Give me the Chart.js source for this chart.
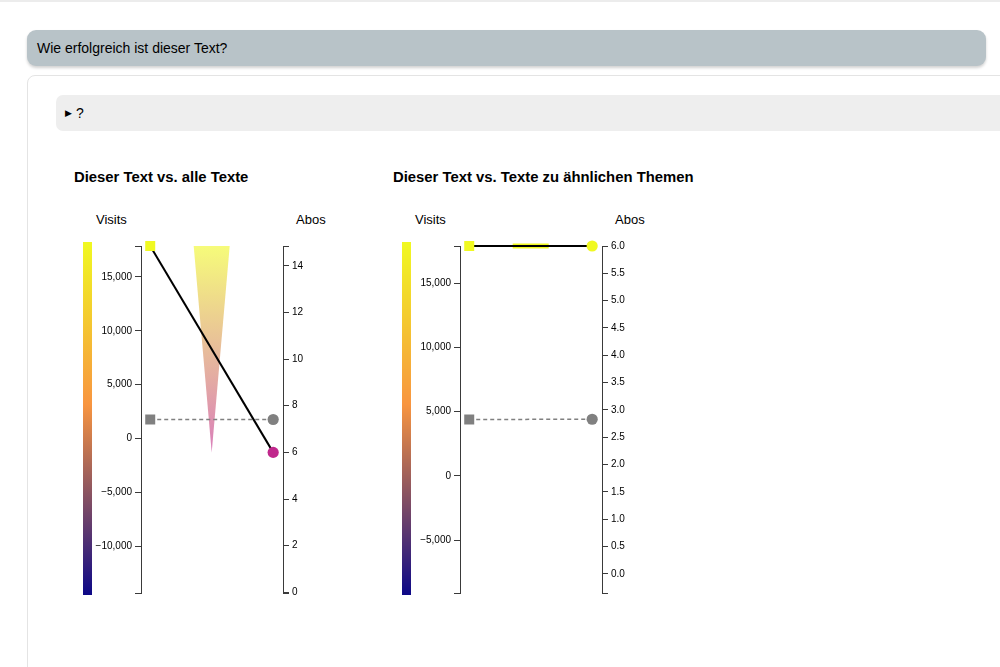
<!DOCTYPE html>
<html>
<head>
<meta charset="utf-8">
<script src="https://cdn.jsdelivr.net/npm/chart.js@4/dist/chart.umd.min.js"></script>
<style>
  html,body{margin:0;padding:0;background:#fff;}
  body{width:1000px;height:667px;position:relative;overflow:hidden;font-family:"Liberation Sans",Arial,Helvetica,sans-serif;color:#000;}
  .abs{position:absolute;}
  #topline{left:0;top:0;width:1000px;height:2px;background:#ececec;}
  #hdr{left:27px;top:30px;width:959px;height:36px;background:#b8c3c8;border-radius:9px;box-shadow:0 2px 3px rgba(0,0,0,0.18);}
  #hdr span{position:absolute;left:10px;top:10px;font-size:14px;line-height:16px;}
  #card{left:27px;top:75px;width:1000px;height:640px;border:1px solid #e4e4e4;border-radius:8px;}
  #det{left:56px;top:95px;width:990px;height:36px;background:#eeeeee;border-radius:7px;}
  #det span{position:absolute;left:9px;top:10px;font-size:14px;line-height:16px;}
  #det i{font-style:normal;font-size:9px;position:relative;top:-2px;}
  .title{font-size:15px;font-weight:bold;line-height:15px;white-space:nowrap;}
  .t2{font-size:14.85px;}
  .axname{font-size:13px;line-height:13px;white-space:nowrap;}
  canvas{position:absolute;}
</style>
</head>
<body>
<div class="abs" id="topline"></div>
<div class="abs" id="hdr"><span>Wie erfolgreich ist dieser Text?</span></div>
<div class="abs" id="card"></div>
<div class="abs" id="det"><span><i>&#9654;</i> ?</span></div>

<div class="abs title t2" style="left:74px;top:170px;">Dieser Text vs. alle Texte</div>
<div class="abs title t2" style="left:393px;top:170px;">Dieser Text vs. Texte zu ähnlichen Themen</div>
<div class="abs axname" style="left:96px;top:213px;">Visits</div>
<div class="abs axname" style="left:296px;top:213px;">Abos</div>
<div class="abs axname" style="left:415px;top:213px;">Visits</div>
<div class="abs axname" style="left:615px;top:213px;">Abos</div>

<canvas id="c1" width="300" height="420" style="left:60px;top:200px;"></canvas>
<canvas id="c2" width="300" height="420" style="left:379px;top:200px;"></canvas>

<script>
// ---------- data (one entry per panel) ----------
const categories = ['Visits', 'Abos'];
const panelTitles = ['Dieser Text vs. alle Texte', 'Dieser Text vs. Texte zu ähnlichen Themen'];
const thisVisits = [17880, 17880];
const avgVisits  = [1760, 4380];
const thisAbos   = [6, 6];
const avgAbos    = [7.41, 2.83];
const visitsMin  = [-14360, -9120];
const visitsMax  = [17880, 17880];
const abosMin    = [-0.03, -0.35];
const abosMax    = [14.85, 6.0];
const visitsTicks = [
  [-10000, -5000, 0, 5000, 10000, 15000],
  [-5000, 0, 5000, 10000, 15000]
];
const abosTicks = [
  [0, 2, 4, 6, 8, 10, 12, 14],
  [0, 0.5, 1, 1.5, 2, 2.5, 3, 3.5, 4, 4.5, 5, 5.5, 6]
];
const abosDecimals = [0, 1];

// ---------- styles ----------
const thisLeftColor  = ['#f0f921', '#f0f921'];
const thisRightColor = ['#c0288c', '#f0f921'];
const avgColor = '#808080';
const axisColor = '#3a3a3a';
const FONT = '"Liberation Sans", Arial, Helvetica, sans-serif';

function hexA(hex, a) {
  const n = parseInt(hex.slice(1), 16);
  return `rgba(${(n >> 16) & 255},${(n >> 8) & 255},${n & 255},${a})`;
}
function fmtVisits(v) {
  return Math.round(v).toLocaleString('en-US').replace('-', '\u2212');
}

const slopePlugin = {
  id: 'slope',
  beforeDatasetsDraw(chart) {
    const p = chart.options.plugins.slope;
    const ctx = chart.ctx;
    const ys = chart.scales.y, xs = chart.scales.x;
    // colour bar beside the visits axis
    const bx = ys.right - 58, bw = 9;
    const g = ctx.createLinearGradient(0, ys.bottom + 2, 0, ys.top - 4);
    g.addColorStop(0, '#0d0887');
    g.addColorStop(0.54, '#f89540');
    g.addColorStop(1, '#f0f921');
    ctx.save();
    ctx.fillStyle = g;
    ctx.fillRect(bx, ys.top - 4, bw, ys.bottom - ys.top + 6);

    const tl = chart.getDatasetMeta(0).data[0];
    const al = chart.getDatasetMeta(1).data[0];
    const tr = chart.getDatasetMeta(2).data[0];
    const ar = chart.getDatasetMeta(3).data[0];

    // wedge in the middle
    const mx = xs.getPixelForValue(0.5);
    const hw = 18;
    if (Math.abs(tr.y - tl.y) < 2) {
      ctx.fillStyle = p.leftColor;
      ctx.fillRect(mx - hw, tl.y - 2.5, hw * 2, 5);
    } else {
      const wg = ctx.createLinearGradient(0, tl.y, 0, tr.y);
      wg.addColorStop(0, hexA(p.leftColor, 0.6));
      wg.addColorStop(1, hexA(p.rightColor, 0.6));
      ctx.fillStyle = wg;
      ctx.beginPath();
      ctx.moveTo(mx - hw, tl.y);
      ctx.lineTo(mx + hw, tl.y);
      ctx.lineTo(mx, tr.y);
      ctx.closePath();
      ctx.fill();
    }

    // average (dashed) line
    ctx.strokeStyle = avgColor;
    ctx.lineWidth = 1.5;
    ctx.setLineDash([4, 3]);
    ctx.beginPath();
    ctx.moveTo(al.x, al.y);
    ctx.lineTo(ar.x, ar.y);
    ctx.stroke();

    // this text line
    ctx.setLineDash([]);
    ctx.strokeStyle = '#000';
    ctx.lineWidth = 2;
    ctx.beginPath();
    ctx.moveTo(tl.x, tl.y);
    ctx.lineTo(tr.x, tr.y);
    ctx.stroke();
    ctx.restore();
  }
};

function makeChart(id, i) {
  const vMin = visitsMin[i], vMax = visitsMax[i];
  const aMin = abosMin[i], aMax = abosMax[i];
  const dec = abosDecimals[i];
  new Chart(document.getElementById(id), {
    type: 'scatter',
    data: {
      datasets: [
        { label: 'Dieser Text ' + categories[0], yAxisID: 'y', data: [{ x: 0, y: thisVisits[i] }], clip: false,
          pointStyle: 'rect', pointRadius: 7.07, backgroundColor: thisLeftColor[i], borderWidth: 0 },
        { label: 'Durchschnitt ' + categories[0], yAxisID: 'y', data: [{ x: 0, y: avgVisits[i] }], clip: false,
          pointStyle: 'rect', pointRadius: 7.07, backgroundColor: avgColor, borderWidth: 0 },
        { label: 'Dieser Text ' + categories[1], yAxisID: 'y1', data: [{ x: 1, y: thisAbos[i] }], clip: false,
          pointStyle: 'circle', pointRadius: 5.6, backgroundColor: thisRightColor[i], borderWidth: 0 },
        { label: 'Durchschnitt ' + categories[1], yAxisID: 'y1', data: [{ x: 1, y: avgAbos[i] }], clip: false,
          pointStyle: 'circle', pointRadius: 5.6, backgroundColor: avgColor, borderWidth: 0 }
      ]
    },
    options: {
      responsive: false,
      animation: false,
      devicePixelRatio: 1,
      layout: { padding: { left: 0, right: 0, top: 46, bottom: 27 } },
      plugins: {
        legend: { display: false },
        tooltip: { enabled: false },
        slope: { leftColor: thisLeftColor[i], rightColor: thisRightColor[i] }
      },
      scales: {
        x: { type: 'linear', min: -0.075, max: 1.08, display: false },
        y: {
          type: 'linear', position: 'left', min: vMin, max: vMax,
          afterFit: s => { s.width = 81; },
          afterBuildTicks: s => { s.ticks = [vMin, ...visitsTicks[i], vMax].map(v => ({ value: v })); },
          border: { display: true, color: axisColor, width: 1 },
          grid: { drawOnChartArea: false, drawTicks: true, tickLength: 6, color: axisColor, lineWidth: 1 },
          ticks: {
            autoSkip: false, padding: 3, color: '#000',
            font: { family: FONT, size: 10 },
            callback: v => (v === vMin || v === vMax) ? '' : fmtVisits(v)
          }
        },
        y1: {
          type: 'linear', position: 'right', min: aMin, max: aMax,
          afterFit: s => { s.width = 77; },
          afterBuildTicks: s => {
            const arr = abosTicks[i].slice();
            if (arr[0] !== aMin) arr.unshift(aMin);
            if (arr[arr.length - 1] !== aMax) arr.push(aMax);
            s.ticks = arr.map(v => ({ value: v }));
          },
          border: { display: true, color: axisColor, width: 1 },
          grid: { drawOnChartArea: false, drawTicks: true, tickLength: 6, color: axisColor, lineWidth: 1 },
          ticks: {
            autoSkip: false, padding: 3, color: '#000',
            font: { family: FONT, size: 10 },
            callback: v => abosTicks[i].includes(v) ? v.toFixed(dec) : ''
          }
        }
      }
    },
    plugins: [slopePlugin]
  });
}

makeChart('c1', 0);
makeChart('c2', 1);
</script>
</body>
</html>
